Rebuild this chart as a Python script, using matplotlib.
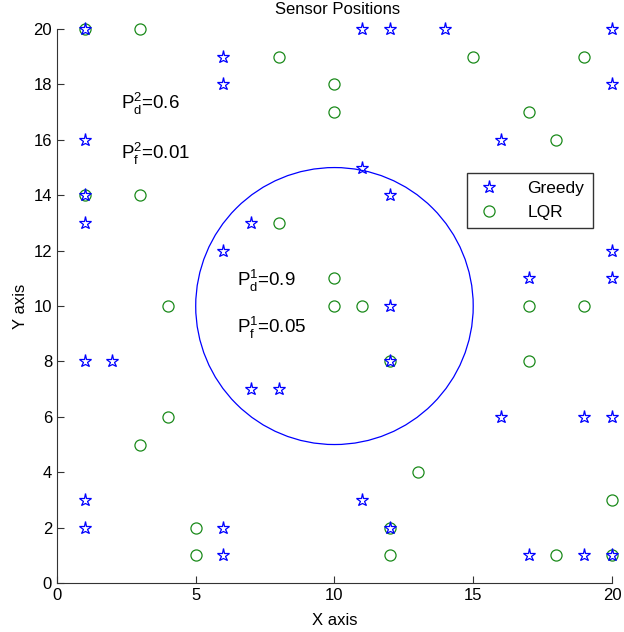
import matplotlib
matplotlib.use("Agg")
import matplotlib.pyplot as plt
from matplotlib.patches import Circle

plt.rcParams['font.family'] = ['Liberation Sans', 'DejaVu Sans']

# greedy sensor positions
greedy_x = [1, 11, 12, 14, 20, 6, 6, 20, 1, 16, 11, 1, 12, 1, 7, 6, 20, 17, 20,
            12, 1, 2, 12, 7, 8, 16, 19, 20, 1, 11, 1, 6, 12, 6, 17, 19, 20]
greedy_y = [20, 20, 20, 20, 20, 19, 18, 18, 16, 16, 15, 14, 14, 13, 13, 12, 12, 11, 11,
            10, 8, 8, 8, 7, 7, 6, 6, 6, 3, 3, 2, 2, 2, 1, 1, 1, 1]

# LQR sensor positions
lqr_x = [1, 3, 8, 15, 19, 10, 10, 17, 18, 1, 3, 8, 10, 4, 10, 11, 17, 19,
         12, 17, 4, 3, 13, 20, 5, 12, 5, 12, 18, 20]
lqr_y = [20, 20, 19, 19, 19, 18, 17, 17, 16, 14, 14, 13, 11, 10, 10, 10, 10, 10,
         8, 8, 6, 5, 4, 3, 2, 2, 1, 1, 1, 1]

# coverage circle
circle_center = (10, 10)
circle_radius = 5

fig = plt.figure(figsize=(6.24, 6.32), dpi=100)
ax = fig.add_axes([0.0913, 0.0775, 0.8894, 0.8765])

ax.plot(lqr_x, lqr_y, linestyle='none', marker='o', markersize=8,
        markerfacecolor='none', markeredgecolor='#1a8a1a', markeredgewidth=0.9,
        label='LQR', clip_on=False, zorder=3)
ax.plot(greedy_x, greedy_y, linestyle='none', marker='*', markersize=9.5,
        markerfacecolor='none', markeredgecolor='blue', markeredgewidth=0.9,
        label='Greedy', clip_on=False, zorder=4)

ax.add_patch(Circle(circle_center, circle_radius, fill=False, edgecolor='blue', lw=0.9))

fs = 13.5
ax.text(2.3, 17.3, r'P$_\mathregular{d}^\mathregular{2}$=0.6', fontsize=fs, va='center')
ax.text(2.3, 15.5, r'P$_\mathregular{f}^\mathregular{2}$=0.01', fontsize=fs, va='center')
ax.text(6.5, 10.9, r'P$_\mathregular{d}^\mathregular{1}$=0.9', fontsize=fs, va='center')
ax.text(6.5, 9.2, r'P$_\mathregular{f}^\mathregular{1}$=0.05', fontsize=fs, va='center')

ax.set_xlim(0, 20)
ax.set_ylim(0, 20)
ax.set_xticks([0, 5, 10, 15, 20])
ax.set_yticks(range(0, 21, 2))
ax.tick_params(direction='in', length=5, labelsize=12, colors='#333333', labelcolor='black')
for s in ['top', 'right']:
    ax.spines[s].set_visible(False)
for s in ['left', 'bottom']:
    ax.spines[s].set_color('#333333')

fig.text(0.5417, 1 - 10 / 632, 'Sensor Positions', fontsize=12, ha='center', va='center')
ax.set_xlabel('X axis', fontsize=12, labelpad=7)
ax.set_ylabel('Y axis', fontsize=12, labelpad=4)

handles, labels = ax.get_legend_handles_labels()
leg = ax.legend(handles[::-1], labels[::-1], loc='upper left', bbox_to_anchor=(0.739, 0.741),
                frameon=True, fancybox=False, edgecolor='black', fontsize=12.5,
                handlelength=1.6, handletextpad=1.4, borderpad=0.48, labelspacing=0.5,
                borderaxespad=0)
leg.get_frame().set_linewidth(1)

fig.savefig('out.png', dpi=100)
